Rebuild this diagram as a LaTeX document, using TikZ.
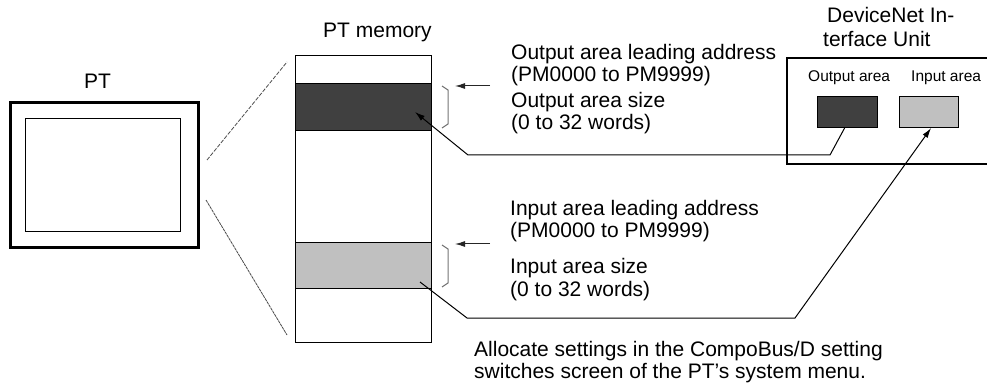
\documentclass[tikz,border=0pt]{standalone}
\usepackage{fontspec}
\setmainfont{Liberation Sans}
\usetikzlibrary{arrows.meta}
\definecolor{darkband}{HTML}{404040}
\definecolor{lightband}{HTML}{C0C0C0}
\tikzset{
  txt/.style={inner sep=0pt, anchor=base west, font=\fontsize{21}{24}\selectfont},
  smalltxt/.style={inner sep=0pt, anchor=base west, font=\fontsize{15.5}{18}\selectfont},
  conn/.style={line width=1pt, black},
  arr/.style={-{Latex[length=10pt,width=6pt]}},
  brk/.style={line width=1pt, black!55},
  box/.style={draw, line width=1.1pt, inner sep=0pt, minimum width=0pt, minimum height=0pt},
}
\begin{document}
\begin{tikzpicture}[x=1pt,y=-1pt]
\useasboundingbox (0,0) rectangle (987,387);
% PT
\node[txt] (ptlbl) at (84,89) {PT};
\draw[line width=3pt] (10,103) rectangle (198,248);
\draw[line width=1pt] (25,119) rectangle (180,232);
% zoom lines
\coordinate (z1a) at (207,160);
\coordinate (z1b) at (287,62);
\coordinate (z2a) at (206,200);
\coordinate (z2b) at (287,335);
\draw[line width=0.8pt, black!70, dash pattern=on 4pt off 1.5pt] (z1a) -- (z1b);
\draw[line width=0.8pt, black!70, dash pattern=on 3pt off 0.7pt] (z2a) -- (z2b);
% PT memory
\node[txt] (memlbl) at (323,38) {PT memory};
\node[box, fill=white, minimum width=136pt, minimum height=287pt, anchor=north west] (mem) at (295,55) {};
\node[box, fill=darkband, minimum width=136pt, minimum height=47pt, anchor=north west] (outband) at (295,83) {};
\node[box, fill=lightband, minimum width=136pt, minimum height=46pt, anchor=north west] (inband) at (295,242) {};
% brackets
\draw[brk] (442,86) -- (448,90) -- (448,124) -- (442,128);
\draw[brk] (442,245) -- (448,249) -- (448,283) -- (442,287);
% texts
\node[txt] (o1) at (511,60) {Output area leading address};
\node[txt] (o2) at (511,82) {(PM0000 to PM9999)};
\node[txt] (o3) at (511,108) {Output area size};
\node[txt] (o4) at (511,130) {(0 to 32 words)};
\node[txt] (i1) at (510,216) {Input area leading address};
\node[txt] (i2) at (510,238) {(PM0000 to PM9999)};
\node[txt] (i3) at (510,273) {Input area size};
\node[txt] (i4) at (510,296) {(0 to 32 words)};
\node[txt] (b1) at (474,356) {Allocate settings in the CompoBus/D setting};
\node[txt] (b2) at (474,378) {switches screen of the PT’s system menu.};
% small arrows
\coordinate (oa) at (490,86);
\coordinate (ia) at (490,244);
\draw[conn, black!85, arr] (oa) -- (455,86);
\draw[conn, black!85, arr] (ia) -- (455,244);
% DeviceNet unit
\node[txt] (dn1) at (827,23) {DeviceNet In-};
\node[txt] (dn2) at (823,47) {terface Unit};
\draw[line width=2.5pt] (988,58) -- (787,58) -- (787,164) -- (988,164);
\node[smalltxt] (dno) at (808,82) {Output area};
\node[smalltxt] (dni) at (911,82) {Input area};
\node[box, fill=darkband, minimum width=60pt, minimum height=31pt, anchor=north west] (dout) at (817,96) {};
\node[box, fill=lightband, minimum width=59pt, minimum height=31pt, anchor=north west] (din) at (899,96) {};
% connectors
\draw[conn, arr] ([xshift=-3pt]dout.south) -- (830,155) -- (468,155) -- (415,112);
\draw[conn, arr] (420,282) -- (467,318) -- (795,318) -- ([xshift=2pt]din.south);
\end{tikzpicture}
\end{document}
